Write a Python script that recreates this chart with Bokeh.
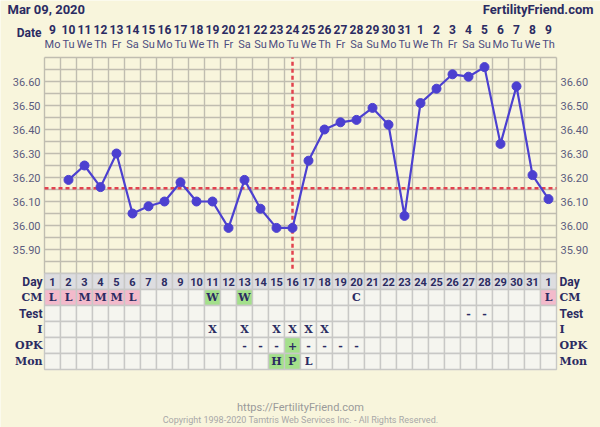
import numpy as np
from bokeh.plotting import figure
from bokeh.models import Range1d, ColumnDataSource
from bokeh.core.properties import value
from bokeh.embed import file_html
from bokeh.resources import INLINE

# ---------------- data ----------------
chart_date = "Mar 09, 2020"
site_name = "FertilityFriend.com"
date_numbers = ["9", "10", "11", "12", "13", "14", "15", "16", "17", "18", "19", "20",
                "21", "22", "23", "24", "25", "26", "27", "28", "29", "30", "31",
                "1", "2", "3", "4", "5", "6", "7", "8", "9"]
weekdays = ["Mo", "Tu", "We", "Th", "Fr", "Sa", "Su", "Mo", "Tu", "We", "Th", "Fr",
            "Sa", "Su", "Mo", "Tu", "We", "Th", "Fr", "Sa", "Su", "Mo", "Tu",
            "We", "Th", "Fr", "Sa", "Su", "Mo", "Tu", "We", "Th"]
cycle_days = ["1", "2", "3", "4", "5", "6", "7", "8", "9", "10", "11", "12", "13", "14",
              "15", "16", "17", "18", "19", "20", "21", "22", "23", "24", "25", "26",
              "27", "28", "29", "30", "31", "1"]
temps = [None, 36.19, 36.25, 36.16, 36.30, 36.05, 36.08, 36.10, 36.18, 36.10, 36.10,
         35.99, 36.19, 36.07, 35.99, 35.99, 36.27, 36.40, 36.43, 36.44, 36.49, 36.42,
         36.04, 36.51, 36.57, 36.63, 36.62, 36.66, 36.34, 36.58, 36.21, 36.11]
coverline = 36.155
ovulation_day = 16
temp_ticks = [35.90, 36.00, 36.10, 36.20, 36.30, 36.40, 36.50, 36.60]
temp_min, temp_max = 35.80, 36.70

cm_obs = ["L", "L", "M", "M", "M", "L", "", "", "", "", "W", "", "W", "", "", "",
          "", "", "", "C", "", "", "", "", "", "", "", "", "", "", "", "L"]
test_obs = ["", "", "", "", "", "", "", "", "", "", "", "", "", "", "", "",
            "", "", "", "", "", "", "", "", "", "", "-", "-", "", "", "", ""]
intercourse = ["", "", "", "", "", "", "", "", "", "", "X", "", "X", "", "X", "X",
               "X", "X", "", "", "", "", "", "", "", "", "", "", "", "", "", ""]
opk_obs = ["", "", "", "", "", "", "", "", "", "", "", "", "-", "-", "-", "+",
           "-", "-", "-", "-", "", "", "", "", "", "", "", "", "", "", "", ""]
monitor_obs = ["", "", "", "", "", "", "", "", "", "", "", "", "", "", "H", "P",
               "L", "", "", "", "", "", "", "", "", "", "", "", "", "", "", ""]
row_labels = ["Day", "CM", "Test", "I", "OPK", "Mon"]
footer_url = "https://FertilityFriend.com"
footer_copy = "Copyright 1998-2020 Tamtris Web Services Inc. - All Rights Reserved."

# ---------------- styles ----------------
BG = "#f8f5dc"
GRID = "#c0bdb0"
NAVY = "#2b2b62"
AXIS_TXT = "#5c5c7e"
LINE = "#4c40d0"
RED = "#e2424e"
PINK = "#f3bacb"
GREEN = "#a4e08b"
CELL = "#f5f5ef"
DAYROW = "#dddde0"
CELL_LINE = "#c8c8c6"

n = len(cycle_days)
cols = np.arange(1, n + 1) - 0.5  # column centres in column units

# ranges: 16 px per column, 240 px per degree, 16 px per table row
W, H = 600, 427
x0_px = 44           # px of first column boundary
top_px = 57          # px of temp_max line
tbl_top_px = 273     # px of table top
y_top = temp_max + top_px / 240
p = figure(width=W, height=H,
           x_range=Range1d(-x0_px / 16, (W - x0_px) / 16),
           y_range=Range1d(y_top - H / 240, y_top),
           output_backend="svg", toolbar_location=None,
           x_axis_location=None, y_axis_location=None, min_border=0,
           background_fill_color=BG, border_fill_color=BG, outline_line_color=None)
p.grid.visible = False
p.extra_y_ranges = {"tbl": Range1d((tbl_top_px - H) / 16, tbl_top_px / 16)}


def ty(px):
    """table-range value of a pixel row"""
    return (tbl_top_px - px) / 16


def tx(px):
    return (px - x0_px) / 16


# ---------------- temperature grid ----------------
hlines = np.round(np.arange(temp_min, temp_max + 0.001, 0.05), 3)
vlines = np.arange(0, n + 1)
p.segment(x0=vlines, y0=temp_min, x1=vlines, y1=temp_max, line_color=GRID, line_width=1.4)
p.segment(x0=0, y0=hlines, x1=n, y1=hlines, line_color=GRID, line_width=1.4)

# axis labels (temperatures)
tick_lbl = ["%.2f" % t for t in temp_ticks]
p.text(x=-0.25, y=temp_ticks, text=tick_lbl, text_align="right", text_baseline="middle",
       text_font=value("Roboto"), text_font_size="11px", text_color=AXIS_TXT)
p.text(x=n + 0.25, y=temp_ticks, text=tick_lbl, text_align="left", text_baseline="middle",
       text_font=value("Roboto"), text_font_size="11px", text_color=AXIS_TXT)

# coverline and ovulation line
p.segment(x0=0, y0=coverline, x1=n, y1=coverline, line_color=RED, line_width=2.5,
          line_dash="4 3")
p.segment(x0=ovulation_day - 0.5, y0=temp_min + 0.02, x1=ovulation_day - 0.5, y1=temp_max,
          line_color=RED, line_width=2.5, line_dash="4 3")

# temperatures
tx_pts = [c for c, t in zip(cols, temps) if t is not None]
ty_pts = [t for t in temps if t is not None]
src = ColumnDataSource(dict(x=tx_pts, y=ty_pts))
p.line("x", "y", source=src, line_color=LINE, line_width=2.2)
p.scatter("x", "y", source=src, size=9, fill_color=LINE, line_color=LINE)

# ---------------- header ----------------
p.text(x=tx(7), y=ty(8.5), text=[chart_date], text_align="left", text_baseline="middle",
       text_font=value("Roboto"), text_font_style="bold", text_font_size="13px",
       text_color=NAVY, y_range_name="tbl")
p.text(x=tx(593), y=ty(8.5), text=[site_name], text_align="right", text_baseline="middle",
       text_font=value("Roboto"), text_font_style="bold", text_font_size="13px",
       text_color=NAVY, y_range_name="tbl")
p.text(x=tx(41), y=ty(32), text=["Date"], text_align="right", text_baseline="middle",
       text_font=value("Roboto"), text_font_style="bold", text_font_size="12px",
       text_color=NAVY, y_range_name="tbl")
p.text(x=cols, y=ty(28.5), text=date_numbers, text_align="center", text_baseline="middle",
       text_font=value("Roboto"), text_font_style="bold", text_font_size="12px",
       text_color=NAVY, y_range_name="tbl")
p.text(x=cols, y=ty(43.5), text=weekdays, text_align="center", text_baseline="middle",
       text_font=value("Roboto"), text_font_size="11px", text_color="#4d4d80",
       y_range_name="tbl")

# ---------------- table ----------------
fill_maps = [
    {},
    {"L": PINK, "M": PINK, "W": GREEN},
    {},
    {},
    {"+": GREEN},
    {"H": GREEN, "P": GREEN},
]
rows = [cycle_days, cm_obs, test_obs, intercourse, opk_obs, monitor_obs]
for k, (vals, fmap) in enumerate(zip(rows, fill_maps)):
    yc = -(k + 0.5)
    if k == 0:
        fills = [DAYROW] * n
    else:
        fills = [fmap.get(s, CELL) for s in vals]
    p.rect(x=cols, y=yc, width=1, height=1, fill_color=fills, line_color=CELL_LINE,
           line_width=1.4, y_range_name="tbl")
    if k == 0:
        p.text(x=cols, y=yc, text=vals, text_align="center", text_baseline="middle",
               text_font=value("Roboto"), text_font_style="bold", text_font_size="11px",
               text_color=NAVY, y_range_name="tbl")
    else:
        p.text(x=cols, y=yc - 0.03, text=vals, text_align="center", text_baseline="middle",
               text_font=value("DejaVu Serif"), text_font_style="bold",
               text_font_size="11px", text_color=NAVY, y_range_name="tbl")

label_fonts = ["Roboto", "DejaVu Serif", "Roboto", "DejaVu Serif", "DejaVu Serif", "DejaVu Serif"]
label_sizes = ["12px", "11px", "12px", "11px", "11px", "11px"]
for k, lab in enumerate(row_labels):
    yc = -(k + 0.5)
    p.text(x=-0.125, y=yc, text=[lab], text_align="right", text_baseline="middle",
           text_font=value(label_fonts[k]), text_font_style="bold",
           text_font_size=label_sizes[k], text_color=NAVY, y_range_name="tbl")
    p.text(x=n + 0.19, y=yc, text=[lab], text_align="left", text_baseline="middle",
           text_font=value(label_fonts[k]), text_font_style="bold",
           text_font_size=label_sizes[k], text_color=NAVY, y_range_name="tbl")

# ---------------- footer ----------------
p.text(x=tx(300), y=ty(407), text=[footer_url], text_align="center", text_baseline="middle",
       text_font=value("Roboto"), text_font_size="11px", text_color="#9a9a9a",
       y_range_name="tbl")
p.text(x=tx(300), y=ty(419), text=[footer_copy], text_align="center",
       text_baseline="middle", text_font=value("Roboto"), text_font_size="9px",
       text_color="#a8a8a8", y_range_name="tbl")

open("out.html", "w").write(file_html(p, INLINE))
